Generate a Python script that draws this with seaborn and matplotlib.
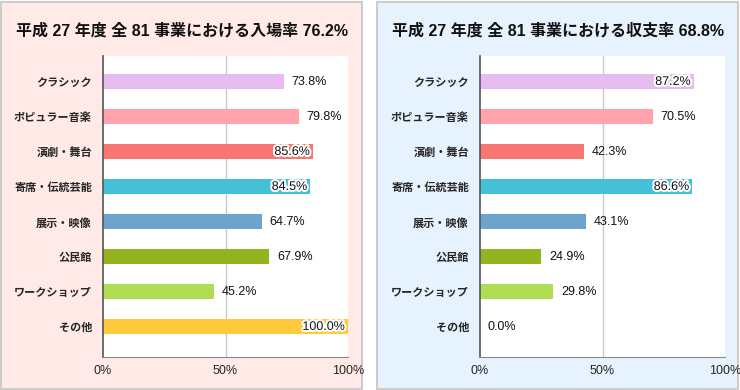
import matplotlib
matplotlib.use("Agg")
import matplotlib.pyplot as plt
import matplotlib.patheffects as pe
from matplotlib.patches import Rectangle
import seaborn as sns
import pandas as pd

# data
categories = ["クラシック", "ポピュラー音楽", "演劇・舞台", "寄席・伝統芸能",
              "展示・映像", "公民館", "ワークショップ", "その他"]
attendance = [73.8, 79.8, 85.6, 84.5, 64.7, 67.9, 45.2, 100.0]
revenue = [87.2, 70.5, 42.3, 86.6, 43.1, 24.9, 29.8, 0.0]
titles = ["平成 27 年度 全 81 事業における入場率 76.2%",
          "平成 27 年度 全 81 事業における収支率 68.8%"]
colors = ["#e6bcf0", "#ffa2ab", "#f97673", "#45c1d7",
          "#6ca4cb", "#94b31f", "#afdc51", "#ffca3c"]

sns.set_style("white")
plt.rcParams['font.family'] = ['Liberation Sans', 'Noto Sans CJK JP', 'DejaVu Sans']

fig = plt.figure(figsize=(7.4, 3.9), dpi=100)
W, H = 740, 390

# panel backgrounds
for x0, bg in [(1, "#ffeae8"), (377, "#e6f2fe")]:
    fig.patches.append(Rectangle((x0 / W, 1 / H), 361 / W, 387 / H,
                                 transform=fig.transFigure, facecolor=bg,
                                 edgecolor="#cccccc", linewidth=1.5, zorder=-10))

palette = dict(zip(categories, colors))

for i, (vals, title, left) in enumerate([(attendance, titles[0], 103),
                                          (revenue, titles[1], 480)]):
    df = pd.DataFrame({"cat": categories, "val": vals})
    ax = fig.add_axes([left / W, 33 / H, 245 / W, 301 / H])
    ax.set_zorder(1)
    sns.barplot(data=df, x="val", y="cat", hue="cat", palette=palette,
                orient="h", width=0.43, legend=False, ax=ax, saturation=1,
                linewidth=0)
    ax.set_xlim(0, 100)
    ax.set_ylim(7.86, -0.74)
    ax.set_xticks([0, 50, 100])
    ax.set_xticklabels(["0%", "50%", "100%"], fontsize=9)
    ax.set_xlabel("")
    ax.set_ylabel("")
    ax.tick_params(axis="y", length=0, pad=8, labelsize=8)
    ax.tick_params(axis="x", length=0, pad=6)
    for lab in ax.get_yticklabels():
        lab.set_fontweight("bold")
    ax.axvline(50, color="#c8c8c8", linewidth=1, zorder=0)
    for s in ["top", "right"]:
        ax.spines[s].set_visible(False)
    ax.spines["left"].set_color("#555555")
    ax.spines["bottom"].set_color("#888888")
    ax.spines["left"].set_linewidth(1.2)

    for j, v in enumerate(vals):
        txt = f"{v:.1f}%"
        if v > 80:
            ax.text(v - 1.2, j, txt, ha="right", va="center", fontsize=9,
                    color="#111111", zorder=5,
                    path_effects=[pe.Stroke(linewidth=3, foreground="white"),
                                  pe.Normal()])
        else:
            ax.text(v + 3.2, j, txt, ha="left", va="center", fontsize=9,
                    color="#111111")

    fig.text((1 + 361 / 2 + (376 if i else 0)) / W, 1 - 30 / H, title,
             ha="center", va="center", fontsize=11.5, fontweight="bold",
             color="#111111")

fig.savefig("out.png", dpi=100)
